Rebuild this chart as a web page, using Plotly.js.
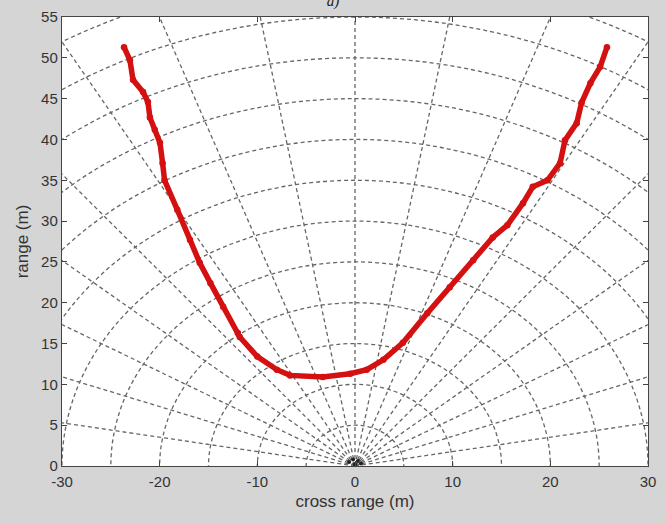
<!DOCTYPE html>
<html>
<head>
<meta charset="utf-8">
<script src="https://cdn.plot.ly/plotly-3.0.1.min.js"></script>
<style>html,body{margin:0;padding:0;background:#d5d5d5;}#chart{width:666px;height:523px;}</style>
</head>
<body>
<div id="chart"></div>
<script>
// Detected target track (cross range, range) in metres
const crossRange = [-23.65,-23.04,-22.73,-21.7,-21.2,-21.0,-20.5,-19.97,-19.7,-19.5,-18.2,-16.9,-15.9,-14.8,-13.5,-12.0,-11.8,-10.0,-8.0,-6.65,-3.3,-0.5,1.2,2.9,4.9,7.4,9.7,12.1,14.1,15.6,17.2,18.2,19.7,21.0,21.5,22.7,23.2,24.1,25.1,25.8];
const rangeM     = [51.3,49.7,47.3,45.8,44.6,42.7,41.2,39.6,37.1,35.0,31.4,27.7,24.9,22.4,19.5,16.3,15.8,13.4,11.8,11.1,10.9,11.3,11.8,13.0,15.1,18.7,21.9,25.2,28.0,29.5,32.2,34.2,35.0,37.1,39.9,42.0,44.5,46.9,48.9,51.3];
// Small cluster at the radar origin
const originX = [-0.6,-0.2,0.3,0.6,0.0];
const originY = [0.5,0.8,0.6,0.3,0.2];
// Polar grid definition
const gridRadii = [5,10,15,20,25,30,35,40,45,50,55,60,65];
const gridAnglesDeg = [10,20,30,40,50,60,70,80,90,100,110,120,130,140,150,160,170];
const xTicks = [-30,-20,-10,0,10,20,30];
const yTicks = [0,5,10,15,20,25,30,35,40,45,50,55];

const gridLine = {color:'#666', width:1.3, dash:'4px,3px'};
const shapes = [];
gridRadii.forEach(r => shapes.push({type:'circle', xref:'x', yref:'y', x0:-r, x1:r, y0:-r, y1:r, line:gridLine, layer:'below'}));
gridAnglesDeg.forEach(a => {
  const t = a*Math.PI/180, R = 80;
  shapes.push({type:'line', xref:'x', yref:'y', x0:0, y0:0, x1:R*Math.cos(t), y1:R*Math.sin(t), line:gridLine, layer:'below'});
});

const traces = [
  {x:crossRange, y:rangeM, type:'scatter', mode:'lines+markers',
   line:{color:'#d41010', width:5.5, shape:'linear'},
   marker:{color:'#d41010', size:6.5}, hoverinfo:'x+y', showlegend:false},
  {x:originX, y:originY, type:'scatter', mode:'markers',
   marker:{color:'#222', size:4}, showlegend:false}
];

const tickFont = {family:'Liberation Sans Narrow, Arial Narrow, Liberation Sans, Arial', size:15, color:'#333'};
const titleFont = {family:'Liberation Sans, Arial', size:17, color:'#333'};
const layout = {
  width:666, height:523,
  paper_bgcolor:'#d5d5d5', plot_bgcolor:'#ffffff',
  margin:{l:62, r:18, t:17, b:57},
  title:{text:'<i>a)</i>', x:0.5, xanchor:'center', y:0.999, yanchor:'middle', font:{family:'Liberation Serif, Times New Roman', size:15, color:'#222'}},
  xaxis:{range:[-30,30], tickvals:xTicks, ticktext:xTicks.map(String), ticks:'inside', ticklen:5, tickcolor:'#444',
         showgrid:false, zeroline:false, showline:true, linecolor:'#444', linewidth:1.2, mirror:'ticks',
         ticklabelstandoff:2,
         tickfont:tickFont, title:{text:'cross range (m)', font:titleFont, standoff:5}},
  yaxis:{range:[0,55], tickvals:yTicks, ticktext:yTicks.map(String), ticks:'inside', ticklen:5, tickcolor:'#444',
         showgrid:false, zeroline:false, showline:true, linecolor:'#444', linewidth:1.2, mirror:'ticks',
         tickfont:tickFont, title:{text:'range (m)', font:titleFont, standoff:8}},
  shapes:shapes
};
Plotly.newPlot('chart', traces, layout, {displayModeBar:false, staticPlot:true});
</script>
</body>
</html>
